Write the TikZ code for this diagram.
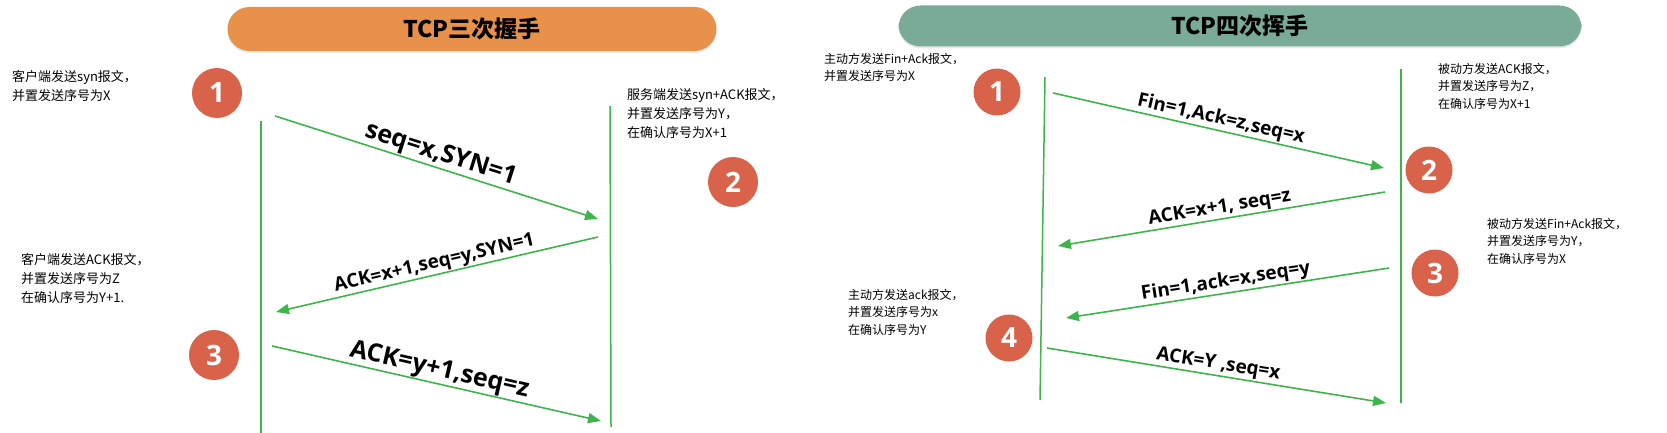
\documentclass[tikz,border=0pt]{standalone}
\usepackage{fontspec}
\setmainfont{Noto Sans CJK SC}
\newfontfamily\tagfont{Open Sans}
\usetikzlibrary{arrows.meta,shadows}
\definecolor{pillorange}{HTML}{E8914A}
\definecolor{pillgreen}{HTML}{7AAB97}
\definecolor{badgered}{HTML}{D9634A}
\definecolor{linegreen}{HTML}{3DB54A}
\tikzset{
  pill/.style={rectangle,rounded corners=22pt,inner sep=0pt,minimum height=44pt,
    drop shadow={shadow xshift=0pt,shadow yshift=-2pt,opacity=0.18},
    font=\bfseries\fontsize{23}{23}\selectfont},                 % title bar
  badge/.style={circle,fill=badgered,text=white,inner sep=0pt,minimum size=50pt,
    font=\tagfont\bfseries\fontsize{28}{28}\selectfont},          % step number
  life/.style={linegreen,line width=1.5pt},                       % lifeline
  msg/.style={-{Triangle[length=13pt,width=10pt]},linegreen,line width=1.6pt},
  bigtag/.style={sloped,above,text=black,inner sep=0.5pt,font=\tagfont\bfseries\fontsize{25}{25}\selectfont},
  smalltag/.style={sloped,above,text=black,inner sep=1pt,font=\tagfont\bfseries\fontsize{19}{19}\selectfont},
  note/.style={anchor=north west,align=left,inner sep=0pt,font=\fontsize{13}{19}\selectfont},
  rnote/.style={note,font=\fontsize{12}{17.5}\selectfont},
}

\begin{document}
\begin{tikzpicture}[x=1pt,y=-1pt]
  \useasboundingbox (0,0) rectangle (1667,433);

  % three-way handshake
  \node[pill,fill=pillorange,minimum width=489pt] (shake) at (472,29) {TCP三次握手};
  \coordinate (cTop) at (261,121); \coordinate (cBot) at (261,433);
  \coordinate (sTop) at (610,106); \coordinate (sBot) at (611,427);
  \draw[life] (cTop) -- (cBot);
  \draw[life] (sTop) -- (sBot);
  \foreach \n/\x/\y in {1/217/93,2/733/182,3/214/355}
    \node[badge] (sa\n) at (\x,\y) {\n};
  \coordinate (m1a) at (275,116); \coordinate (m1b) at (598,219);
  \coordinate (m2a) at (598,237); \coordinate (m2b) at (276,312);
  \coordinate (m3a) at (272,346); \coordinate (m3b) at (601,421);
  \draw[msg] (m1a) -- node[bigtag] {seq=x,SYN=1} (m1b);
  \draw[msg] (m2a) -- node[smalltag] {ACK=x+1,seq=y,SYN=1} (m2b);
  \draw[msg] (m3a) -- node[bigtag] {ACK=y+1,seq=z} (m3b);
  \node[note] (na1) at (12,70) {客户端发送syn报文，\\并置发送序号为X};
  \node[note] (na2) at (627,88) {服务端发送syn+ACK报文，\\并置发送序号为Y，\\在确认序号为X+1};
  \node[note] (na3) at (21,253) {客户端发送ACK报文，\\并置发送序号为Z\\在确认序号为Y+1.};

  % four-way wave
  \node[pill,fill=pillgreen,minimum width=683pt,minimum height=41pt] (wave) at (1240,26) {TCP四次挥手};
  \coordinate (aTop) at (1045,77); \coordinate (aBot) at (1040,400);
  \coordinate (pTop) at (1401,69); \coordinate (pBot) at (1401,403);
  \draw[life] (aTop) -- (aBot);
  \draw[life] (pTop) -- (pBot);
  \foreach \n/\x/\y in {1/997/92,2/1429/170,3/1435/273,4/1009/338}
    \node[badge,minimum size=47pt] (sb\n) at (\x,\y) {\n};
  \coordinate (w1a) at (1053,93);  \coordinate (w1b) at (1384,168);
  \coordinate (w2a) at (1385,192); \coordinate (w2b) at (1058,246);
  \coordinate (w3a) at (1389,268); \coordinate (w3b) at (1066,318);
  \coordinate (w4a) at (1047,348); \coordinate (w4b) at (1386,403);
  \draw[msg] (w1a) -- node[smalltag] {Fin=1,Ack=z,seq=x} (w1b);
  \draw[msg] (w2a) -- node[smalltag] {ACK=x+1, seq=z} (w2b);
  \draw[msg] (w3a) -- node[smalltag] {Fin=1,ack=x,seq=y} (w3b);
  \draw[msg] (w4a) -- node[smalltag] {ACK=Y ,seq=x} (w4b);
  \node[rnote] (nb1) at (824,53) {主动方发送Fin+Ack报文，\\并置发送序号为X};
  \node[rnote] (nb2) at (1438,63) {被动方发送ACK报文，\\并置发送序号为Z，\\在确认序号为X+1};
  \node[rnote] (nb3) at (1487,218) {被动方发送Fin+Ack报文，\\并置发送序号为Y，\\在确认序号为X};
  \node[rnote] (nb4) at (848,289) {主动方发送ack报文，\\并置发送序号为x\\在确认序号为Y};
\end{tikzpicture}
\end{document}
